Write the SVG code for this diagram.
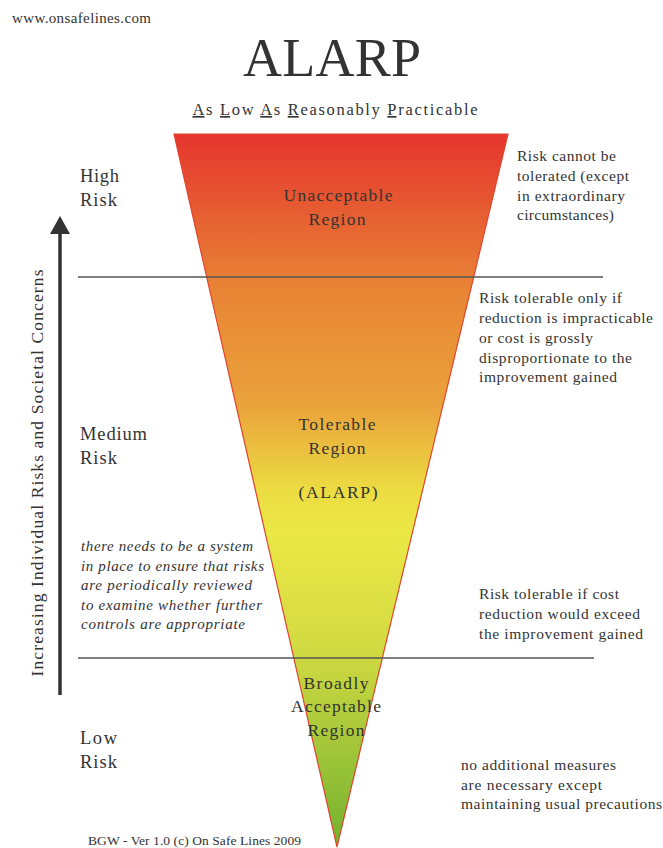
<svg xmlns="http://www.w3.org/2000/svg" width="663" height="848" viewBox="0 0 663 848">
  <style>
    text { font-family: "Liberation Serif", "DejaVu Serif", serif; fill: #333; }
    .lbl { font-size: 18.5px; }
    .reg { font-size: 17.5px; text-anchor: middle; }
    .note { font-size: 15.5px; }
    .it { font-size: 15px; font-style: italic; }
    .rule { stroke: #555; stroke-width: 1.5; }
    .u { text-decoration: underline; }
  </style>
  <defs>
    <linearGradient id="riskGrad" x1="0" y1="134" x2="0" y2="847" gradientUnits="userSpaceOnUse">
      <stop offset="0" stop-color="#e5352e"/>
      <stop offset="0.22" stop-color="#e88535"/>
      <stop offset="0.38" stop-color="#eaa23b"/>
      <stop offset="0.5" stop-color="#ecdc42"/>
      <stop offset="0.56" stop-color="#ebe845"/>
      <stop offset="0.72" stop-color="#d2da42"/>
      <stop offset="1" stop-color="#72b22f"/>
    </linearGradient>
  </defs>

  <rect width="663" height="848" fill="#fff"/>

  <!-- heading -->
  <g id="header">
    <text x="12" y="23" font-size="15" textLength="139">www.onsafelines.com</text>
    <text x="332" y="76" font-size="54" text-anchor="middle" textLength="178">ALARP</text>
    <text x="335" y="115" font-size="16.5" text-anchor="middle" textLength="285"><tspan class="u">A</tspan>s <tspan class="u">L</tspan>ow <tspan class="u">A</tspan>s <tspan class="u">R</tspan>easonably <tspan class="u">P</tspan>racticable</text>
  </g>

  <!-- risk triangle -->
  <g id="triangle">
    <path d="M174,134 L508,134 L337,847 Z" fill="url(#riskGrad)" stroke="#e0452f" stroke-width="1.2"/>
  </g>

  <!-- region boundaries and the rising-risk arrow -->
  <g id="connectors">
    <line class="rule" x1="78" y1="277" x2="603" y2="277"/>
    <line class="rule" x1="78" y1="658" x2="594" y2="658"/>
    <line x1="60" y1="695" x2="60" y2="232" stroke="#333" stroke-width="3.5"/>
    <path d="M50,234 L70,234 L60,216 Z" fill="#333"/>
  </g>

  <g id="axis-label">
    <text x="0" y="0" font-size="17.5" text-anchor="middle" textLength="407" transform="translate(43,473) rotate(-90)">Increasing Individual Risks and Societal Concerns</text>
  </g>

  <g id="risk-levels">
    <text class="lbl" x="80" y="182" textLength="39">High</text>
    <text class="lbl" x="80" y="206" textLength="37">Risk</text>
    <text class="lbl" x="80" y="440" textLength="67">Medium</text>
    <text class="lbl" x="80" y="464" textLength="37">Risk</text>
    <text class="lbl" x="80" y="744" textLength="37">Low</text>
    <text class="lbl" x="80" y="768" textLength="37">Risk</text>
  </g>

  <g id="unacceptable">
    <text class="reg" x="338" y="201" textLength="109">Unacceptable</text>
    <text class="reg" x="337" y="225" textLength="57">Region</text>
  </g>

  <g id="tolerable">
    <text class="reg" x="337" y="430" textLength="77">Tolerable</text>
    <text class="reg" x="337" y="454" textLength="57">Region</text>
    <text class="reg" x="338" y="498" textLength="79">(ALARP)</text>
  </g>

  <g id="broadly-acceptable">
    <text class="reg" x="336" y="689" textLength="65">Broadly</text>
    <text class="reg" x="336" y="712" textLength="90">Acceptable</text>
    <text class="reg" x="336" y="736" textLength="57">Region</text>
  </g>

  <g id="note-unacceptable">
    <text class="note" x="517" y="161" textLength="99">Risk cannot be</text>
    <text class="note" x="517" y="181" textLength="112">tolerated (except</text>
    <text class="note" x="517" y="201" textLength="108">in extraordinary</text>
    <text class="note" x="517" y="220" textLength="97">circumstances)</text>
  </g>

  <g id="note-tolerable">
    <text class="note" x="479" y="303" textLength="143">Risk tolerable only if</text>
    <text class="note" x="479" y="323" textLength="174">reduction is impracticable</text>
    <text class="note" x="479" y="343" textLength="114">or cost is grossly</text>
    <text class="note" x="479" y="363" textLength="153">disproportionate to the</text>
    <text class="note" x="479" y="382" textLength="138">improvement gained</text>
  </g>

  <g id="note-cost">
    <text class="note" x="479" y="599" textLength="140">Risk tolerable if cost</text>
    <text class="note" x="479" y="619" textLength="161">reduction would exceed</text>
    <text class="note" x="479" y="639" textLength="164">the improvement gained</text>
  </g>

  <g id="note-review">
    <text class="it" x="81" y="551" textLength="172">there needs to be a system</text>
    <text class="it" x="81" y="571" textLength="183">in place to ensure that risks</text>
    <text class="it" x="81" y="590" textLength="171">are periodically reviewed</text>
    <text class="it" x="81" y="610" textLength="181">to examine whether further</text>
    <text class="it" x="81" y="629" textLength="164">controls are appropriate</text>
  </g>

  <g id="note-broadly">
    <text class="note" x="461" y="770" textLength="155">no additional measures</text>
    <text class="note" x="461" y="790" textLength="141">are necessary except</text>
    <text class="note" x="461" y="809" textLength="201">maintaining usual precautions</text>
  </g>

  <g id="footer">
    <text x="88" y="845" font-size="13.5" textLength="213">BGW - Ver 1.0 (c) On Safe Lines 2009</text>
  </g>
</svg>
